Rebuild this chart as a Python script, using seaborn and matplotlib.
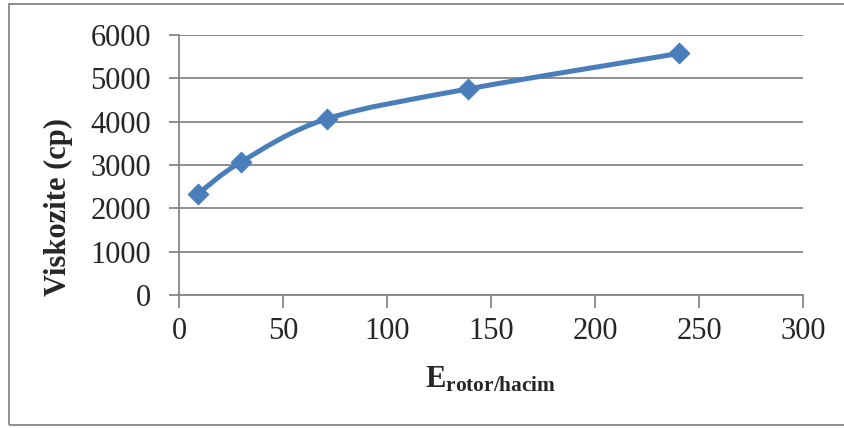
import numpy as np
import matplotlib
matplotlib.use("Agg")
import matplotlib.pyplot as plt
import seaborn as sns
import pandas as pd
from matplotlib.path import Path
from matplotlib.patches import PathPatch, Rectangle

# Data
energy = [9, 30, 71, 139, 240.5]
viscosity = [2330, 3075, 4065, 4755, 5575]
x_ticks = [0, 50, 100, 150, 200, 250, 300]
y_ticks = [0, 1000, 2000, 3000, 4000, 5000, 6000]

sns.set_theme(style="white")
plt.rcParams['font.family'] = ['Liberation Serif', 'DejaVu Serif']
plt.rcParams['mathtext.fontset'] = 'custom'
plt.rcParams['mathtext.rm'] = 'Liberation Serif'
plt.rcParams['mathtext.bf'] = 'Liberation Serif:bold'

color = "#4A7EBB"
grid_c = "#868686"

fig = plt.figure(figsize=(8.45, 4.28), dpi=100)
ax = fig.add_axes([179/845, 1-295/428, (803-179)/845, (295-35)/428])

df = pd.DataFrame({"E": energy, "V": viscosity})

# Smoothed line (Excel-like Catmull-Rom Bezier) built from the data points
P = np.column_stack([energy, viscosity]).astype(float)
n = len(P)
verts = [tuple(P[0])]
codes = [Path.MOVETO]
for i in range(n - 1):
    p0 = P[i - 1] if i > 0 else P[i]
    p1 = P[i]
    p2 = P[i + 1]
    p3 = P[i + 2] if i + 2 < n else P[i + 1]
    c1 = p1 + (p2 - p0) / 6.0
    c2 = p2 - (p3 - p1) / 6.0
    verts += [tuple(c1), tuple(c2), tuple(p2)]
    codes += [Path.CURVE4] * 3
ax.add_patch(PathPatch(Path(verts, codes), facecolor="none", edgecolor=color,
                       lw=3.6, capstyle="round", joinstyle="round", zorder=3))

sns.scatterplot(data=df, x="E", y="V", ax=ax, marker="D", s=110, color=color,
                edgecolor=color, linewidth=0.8, zorder=4, legend=False)

ax.set_xlim(0, 300)
ax.set_ylim(0, 6000)
ax.set_xticks(x_ticks)
ax.set_yticks(y_ticks)
ax.set_xticklabels([str(t) for t in x_ticks])
ax.set_yticklabels([str(t) for t in y_ticks])
ax.yaxis.grid(True, color=grid_c, lw=1.3)
ax.xaxis.grid(False)
ax.set_axisbelow(True)
for s in ["top", "right"]:
    ax.spines[s].set_visible(False)
for s in ["left", "bottom"]:
    ax.spines[s].set_color(grid_c)
    ax.spines[s].set_linewidth(1.3)
ax.tick_params(axis="y", direction="out", length=7, width=1.3, color=grid_c,
               labelsize=22, pad=13, left=True)
ax.tick_params(axis="x", direction="out", length=9, width=1.3, color=grid_c,
               labelsize=22, pad=7, bottom=True)
ax.set_xlabel("")
ax.set_ylabel("")

fig.text(491/845, 1-380/428, r"$\mathbf{E_{rotor/hacim}}$", ha="center", va="center",
         fontsize=22)
fig.text(58/845, 1-207/428, "Viskozite (cp)", rotation=90, ha="center", va="center",
         fontsize=22, fontweight="bold")

fig.add_artist(Rectangle((9/845, 1-425/428), 2, (425-4)/428, transform=fig.transFigure,
                         facecolor="none", edgecolor=grid_c, lw=1.3, clip_on=False))

fig.savefig("out.png", dpi=100)
